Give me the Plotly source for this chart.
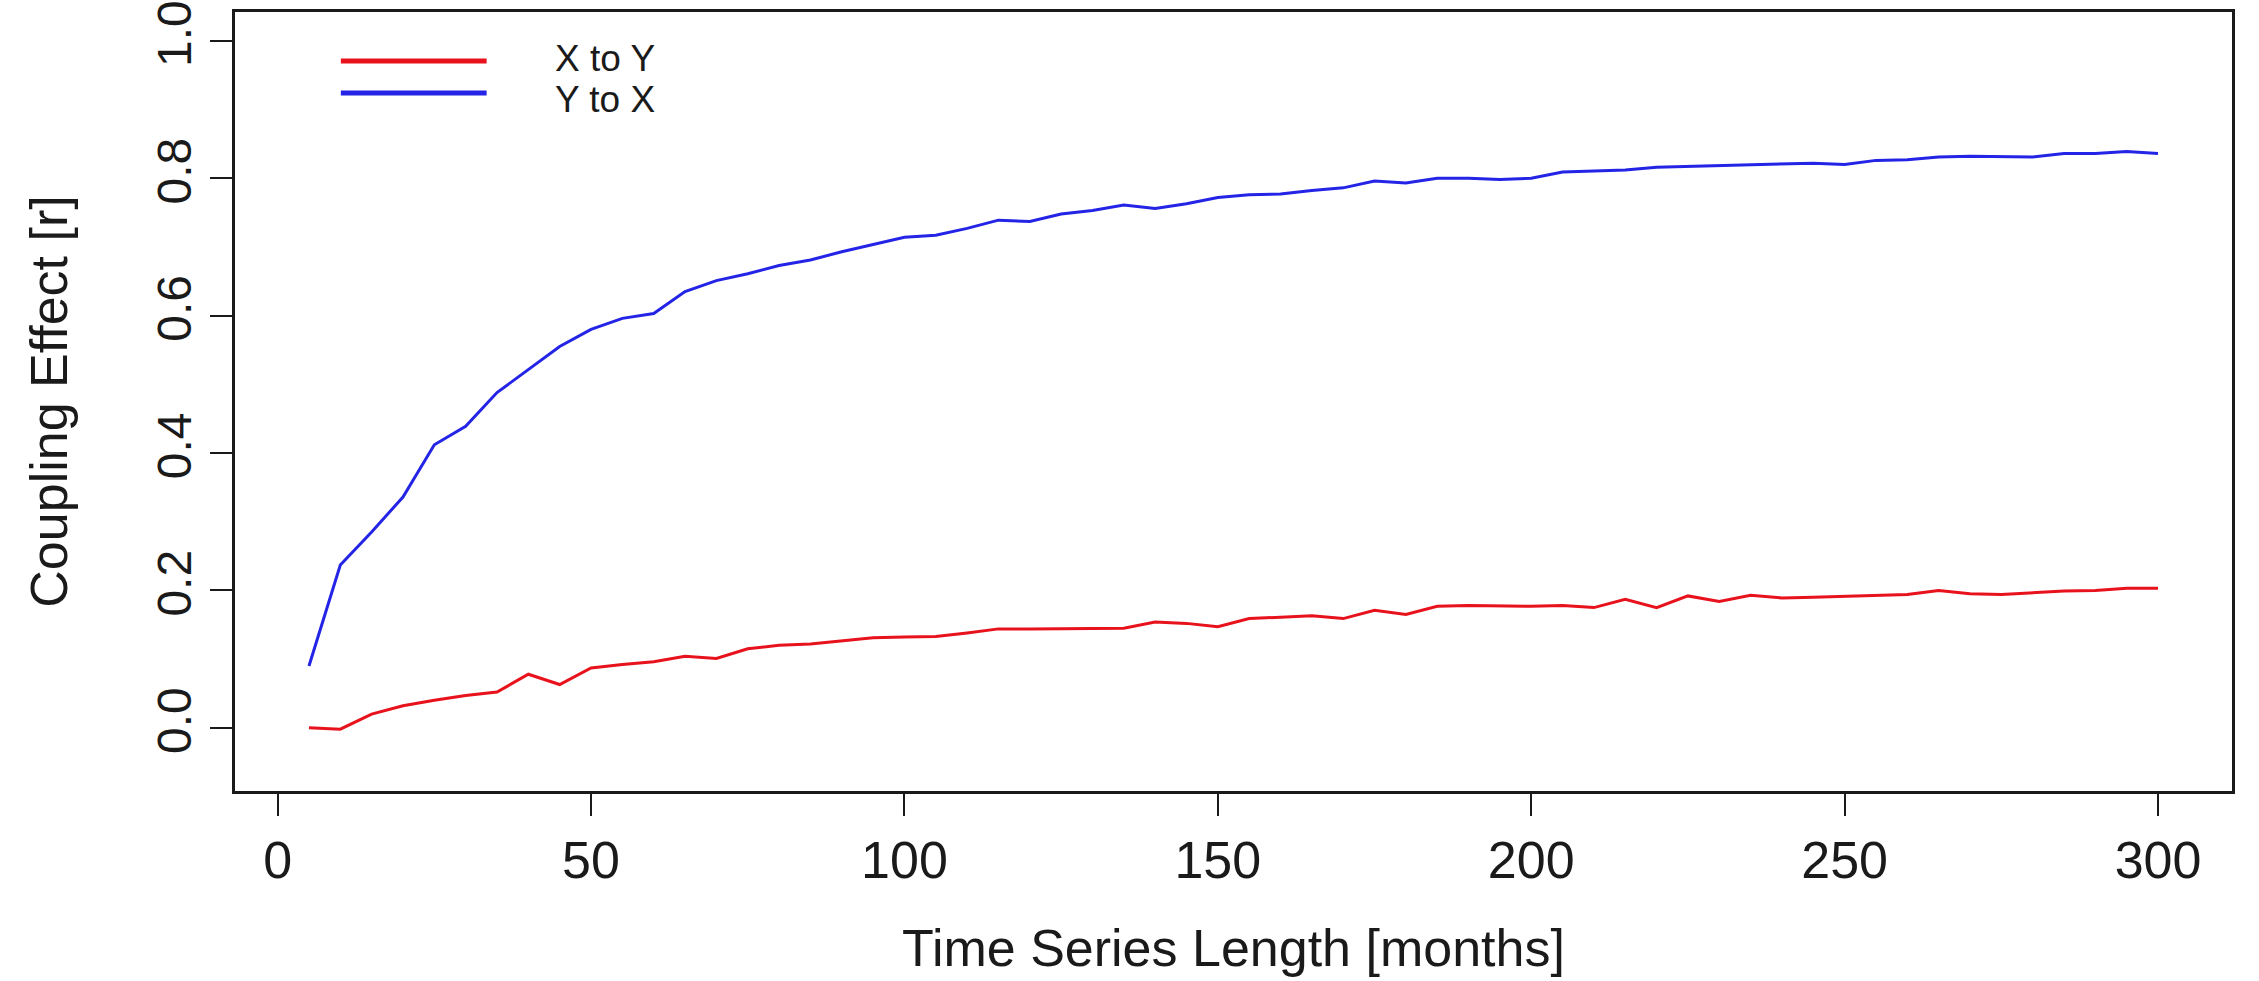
import plotly.graph_objects as go

# Time series length (months)
months = [5, 10, 15, 20, 25, 30, 35, 40, 45, 50,
          55, 60, 65, 70, 75, 80, 85, 90, 95, 100,
          105, 110, 115, 120, 125, 130, 135, 140, 145, 150,
          155, 160, 165, 170, 175, 180, 185, 190, 195, 200,
          205, 210, 215, 220, 225, 230, 235, 240, 245, 250,
          255, 260, 265, 270, 275, 280, 285, 290, 295, 300]

# Coupling effect, X to Y
x_to_y = [0.000, -0.002, 0.020, 0.032, 0.040, 0.047, 0.052, 0.078, 0.063, 0.087,
          0.092, 0.096, 0.104, 0.101, 0.115, 0.120, 0.122, 0.126, 0.131, 0.132,
          0.133, 0.138, 0.144, 0.144, 0.144, 0.144, 0.145, 0.154, 0.152, 0.147,
          0.159, 0.161, 0.163, 0.159, 0.171, 0.165, 0.177, 0.178, 0.177, 0.177,
          0.178, 0.175, 0.187, 0.175, 0.192, 0.184, 0.193, 0.189, 0.190, 0.191,
          0.193, 0.194, 0.200, 0.195, 0.194, 0.197, 0.199, 0.200, 0.203, 0.203]

# Coupling effect, Y to X
y_to_x = [0.090, 0.237, 0.285, 0.336, 0.412, 0.439, 0.488, 0.522, 0.555, 0.580,
          0.596, 0.603, 0.635, 0.651, 0.661, 0.673, 0.681, 0.693, 0.703, 0.714,
          0.717, 0.727, 0.739, 0.737, 0.748, 0.753, 0.761, 0.756, 0.763, 0.772,
          0.776, 0.777, 0.782, 0.786, 0.796, 0.793, 0.800, 0.800, 0.798, 0.800,
          0.809, 0.811, 0.812, 0.816, 0.817, 0.819, 0.820, 0.821, 0.822, 0.820,
          0.826, 0.827, 0.831, 0.832, 0.831, 0.831, 0.836, 0.836, 0.839, 0.836]

x_ticks = [0, 50, 100, 150, 200, 250, 300]
y_ticks = [0.0, 0.2, 0.4, 0.6, 0.8, 1.0]
y_tick_text = ["0.0", "0.2", "0.4", "0.6", "0.8", "1.0"]

series_names = ["X to Y", "Y to X"]
RED = "#e8121c"
BLUE = "#2424e6"
FONT = "Liberation Sans, Arial, Helvetica, sans-serif"
INK = "#1a1a1a"

fig = go.Figure()
fig.add_trace(go.Scatter(x=months, y=x_to_y, mode="lines", name=series_names[0],
                         line=dict(color=RED, width=3), showlegend=False))
fig.add_trace(go.Scatter(x=months, y=y_to_x, mode="lines", name=series_names[1],
                         line=dict(color=BLUE, width=3), showlegend=False))

# Legend drawn as short line segments with labels, top-left inside the box
legend_rows = [(series_names[0], RED, 0.937, 0.940), (series_names[1], BLUE, 0.896, 0.888)]
for label, color, line_y, text_y in legend_rows:
    fig.add_shape(type="line", xref="paper", yref="paper",
                  x0=0.053, x1=0.126, y0=line_y, y1=line_y,
                  line=dict(color=color, width=5))
    fig.add_annotation(xref="paper", yref="paper", x=0.159, y=text_y,
                       text=label, showarrow=False, xanchor="left", yanchor="middle",
                       font=dict(family=FONT, size=37, color=INK))

fig.update_layout(
    width=2259, height=981,
    margin=dict(l=235, r=27, t=12, b=190),
    paper_bgcolor="white", plot_bgcolor="white",
    font=dict(family=FONT, color=INK),
)

fig.update_xaxes(
    range=[-6.8, 311.8], tickvals=x_ticks, ticktext=[str(v) for v in x_ticks],
    showgrid=False, zeroline=False, automargin=False,
    showline=True, mirror=True, linecolor=INK, linewidth=2.5,
    ticks="outside", ticklen=22, tickwidth=2, tickcolor=INK,
    ticklabeloverflow="allow",
    tickfont=dict(family=FONT, size=52, color=INK),
    title=dict(text="Time Series Length [months]", standoff=42,
               font=dict(family=FONT, size=52, color=INK)),
)
fig.update_yaxes(
    range=[-0.092, 1.042], tickvals=y_ticks, ticktext=y_tick_text,
    tickangle=-90,
    showgrid=False, zeroline=False, automargin=False,
    showline=True, mirror=True, linecolor=INK, linewidth=2.5,
    ticks="outside", ticklen=22, tickwidth=2, tickcolor=INK,
    ticklabeloverflow="allow",
    tickfont=dict(family=FONT, size=48, color=INK),
    title=dict(text="Coupling Effect [r]", standoff=64,
               font=dict(family=FONT, size=52, color=INK)),
)

fig.write_html("out.html")
